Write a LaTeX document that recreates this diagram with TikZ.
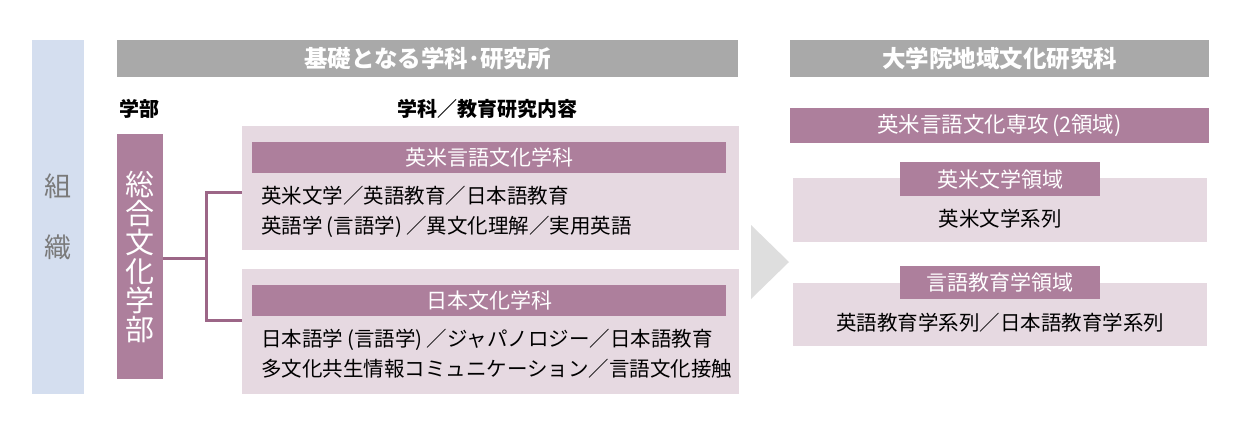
\documentclass[tikz,border=0pt]{standalone}
\usepackage{fontspec}
\setmainfont{Noto Sans CJK JP}
\usetikzlibrary{positioning}

\definecolor{mauve}{HTML}{AD7F9C}
\definecolor{mauvedark}{HTML}{9C6687}
\definecolor{pinkbg}{HTML}{E6D9E1}
\definecolor{headgray}{HTML}{A9A9A9}
\definecolor{bandblue}{HTML}{D4DEEF}
\definecolor{arrowgray}{HTML}{DEDEDE}
\definecolor{labelgray}{HTML}{7A7A7A}

\begin{document}
\begin{tikzpicture}[x=1pt, y=-1pt,
    head/.style={fill=headgray, text=white, inner sep=0, minimum height=37pt,
        font=\fontsize{23.5}{26}\selectfont\bfseries},
    bar/.style={fill=mauve, text=white, inner sep=0,
        font=\fontsize{21}{24}\selectfont},
    panel/.style={fill=pinkbg, inner sep=0},
    body/.style={inner sep=0, align=left, font=\fontsize{20.5}{30}\selectfont},
    colhead/.style={inner sep=0, font=\fontsize{20}{22}\selectfont\bfseries},
    conn/.style={mauvedark, line width=3pt}]

        \useasboundingbox (0,0) rectangle (1255,434);

        % Left band
        \node[fill=bandblue, text=labelgray, inner sep=0, minimum width=52pt,
            minimum height=354pt, align=center, font=\fontsize{27}{61}\selectfont]
            (band) at (58,217) {組\\織};

        % Headers
        \node[head, minimum width=621pt] (base) at (427.5,58.5) {基礎となる学科･研究所};
        \node[head, minimum width=419pt] (grad) at (999.5,58.5) {大学院地域文化研究科};

        \node[colhead] (bu) at (139,109) {学部};
        \node[colhead] (ka) at (487,109) {学科／教育研究内容};

        % Faculty
        \node[fill=mauve, text=white, inner sep=0, minimum width=46pt,
            minimum height=245pt, align=center, font=\fontsize{29}{29}\selectfont]
            (fac) at (140,256.5) {総\\合\\文\\化\\学\\部};

        % Departments
        \node[panel, minimum width=497pt, minimum height=124pt] (dept1) at (490.5,188) {};
        \node[bar, minimum width=474pt, minimum height=31pt] (title1) at (489,157.5) {英米言語文化学科};
        \node[body, anchor=west] (text1) at (261,212)
            {英米文学／英語教育／日本語教育\\英語学\kern4pt(言語学)\kern4pt／異文化理解／実用英語};

        \node[panel, minimum width=497pt, minimum height=125pt] (dept2) at (490.5,331.5) {};
        \node[bar, minimum width=474pt, minimum height=31pt] (title2) at (489,300.5) {日本文化学科};
        \node[body, anchor=west] (text2) at (261,354)
            {日本語学\kern4pt(言語学)\kern4pt／ジャパノロジー／日本語教育\\多文化共生情報コミュニケーション／言語文化接触};

        % Connector
        \coordinate (jn) at (206,258);
        \draw[conn] (fac.east |- jn) -- (jn);
        \draw[conn] ([yshift=-4pt]dept1.west) -| (jn) |- ([yshift=11pt]dept2.west);

        % Arrow
        \fill[arrowgray] (751,225) -- (789,262) -- (751,299) -- cycle;

        % Graduate school
        \node[bar, minimum width=419pt, minimum height=35pt, font=\fontsize{21.5}{24}\selectfont]
            (major) at (999.5,125.5) {英米言語文化専攻\kern3pt(2領域)};

        \node[panel, minimum width=414pt, minimum height=64pt] (fieldA) at (1000,210) {};
        \node[bar, minimum width=200pt, minimum height=34pt] (tagA) at (1000,179) {英米文学領域};
        \node[body] (seriesA) at (1000,219) {英米文学系列};

        \node[panel, minimum width=414pt, minimum height=63pt] (fieldB) at (1000,314.5) {};
        \node[bar, minimum width=200pt, minimum height=33pt] (tagB) at (1000,282.5) {言語教育学領域};
        \node[body] (seriesB) at (1000,323) {英語教育学系列／日本語教育学系列};

    \end{tikzpicture}
\end{document}
